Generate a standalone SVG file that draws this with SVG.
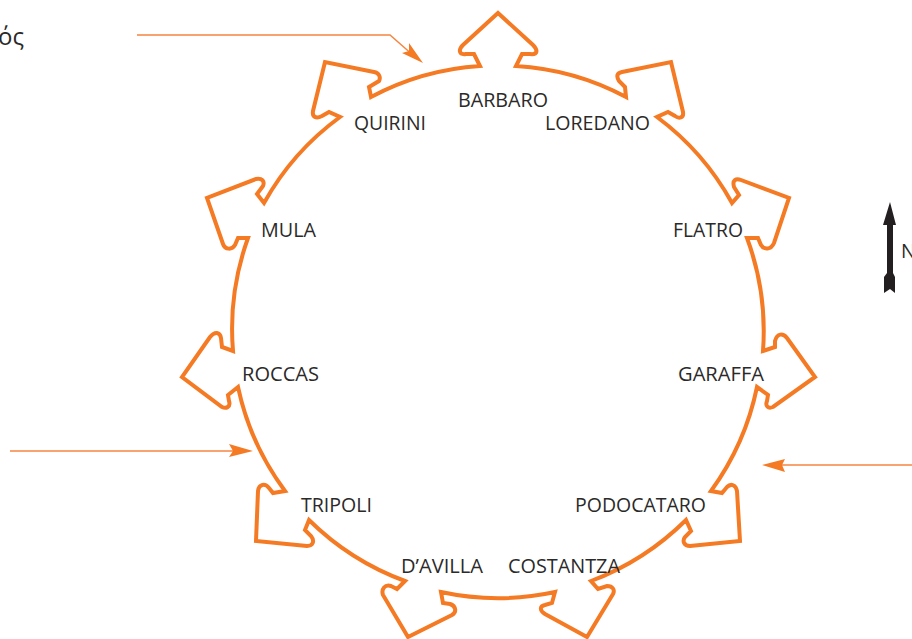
<svg xmlns="http://www.w3.org/2000/svg" width="912" height="639" viewBox="0 0 912 639">
<style>
.w{fill:none;stroke:#f57a24;stroke-width:4;stroke-linejoin:miter;stroke-miterlimit:10}
.l{fill:none;stroke:#f68540;stroke-width:1.5}
.h{fill:#f57a24}
.t{font-family:"Open Sans","Noto Sans",sans-serif;font-size:19.5px;fill:#2b2a29}
</style>
<rect width="912" height="639" fill="#fff"/>
<g id="wall"><path class="w" d="M498 13L533 45C538 50 538 55 530 54L522 54L516 66A268 268 0 0 1 626 97L625 87L619 81C616 76 617 73 622 72L671 62L683 112C684 118 679 119 675 116L668 112L657 117A268 268 0 0 1 732 203L739 195L734 187C732 180 736 178 741 180L789 198L774 243C771 250 764 250 761 245L758 238L747 238A268 268 0 0 1 763 351L775 347L775 341C777 333 783 333 787 338L815 377L773 407C768 409 765 406 767 401L768 395L757 387A268 268 0 0 1 711 491L722 493L727 487C731 483 736 485 737 491L740 541L690 546C684 546 682 541 685 537L691 531L686 520A268 268 0 0 1 591 581L598 589L607 586C613 586 615 590 613 594L587 637L545 614C539 610 540 606 545 605L552 603L555 592A268 268 0 0 1 441 592L443 603L450 604C456 606 457 612 452 615L408 637L383 595C381 589 385 584 391 586L397 589L405 581A268 268 0 0 1 309 520L305 530L311 536C315 541 313 546 307 546L256 541L258 491C259 484 265 483 269 488L273 493L285 491A268 268 0 0 1 238 387L228 395L229 401C231 407 226 409 222 407L182 377L210 337C215 331 220 332 221 338L222 347L233 351A268 268 0 0 1 248 238L238 238L235 245C232 250 225 250 223 244L207 198L256 179C262 178 265 181 263 186L257 194L264 203A268 268 0 0 1 340 117L329 112L322 116C316 119 312 117 313 111L325 62L374 72C379 73 381 77 379 81L369 87L371 97A268 268 0 0 1 480 66L474 54L466 54C459 55 458 50 463 45Z"/></g>
<g id="connectors">
<path class="l" d="M137 35H390L414 56"/>
<path class="h" d="M423 63L402 53L409 51L409 43Z"/>
<path class="l" d="M10 451H236"/>
<path class="h" d="M253 451L229 444L233 451L229 457Z"/>
<path class="l" d="M912 465H780"/>
<path class="h" d="M762 465L785 459L782 465L785 472Z"/>
</g>
<g id="north"><path fill="#231f20" d="M890 202L896 225H893V273L895 277V293L890 289L884 293V277L887 273V225H883Z"/><text class="t" x="901" y="258">N</text></g>
<g id="top-label"><text class="t" x="24" y="45" text-anchor="end" style="font-size:24px">ός</text></g>
<g id="barbaro"><text class="t" x="458" y="107" textLength="90" lengthAdjust="spacingAndGlyphs">BARBARO</text></g>
<g id="loredano"><text class="t" x="545" y="130" textLength="105" lengthAdjust="spacingAndGlyphs">LOREDANO</text></g>
<g id="quirini"><text class="t" x="354" y="130" textLength="72" lengthAdjust="spacingAndGlyphs">QUIRINI</text></g>
<g id="flatro"><text class="t" x="673" y="237" textLength="70" lengthAdjust="spacingAndGlyphs">FLATRO</text></g>
<g id="mula"><text class="t" x="261" y="237" textLength="55" lengthAdjust="spacingAndGlyphs">MULA</text></g>
<g id="roccas"><text class="t" x="242" y="381" textLength="77" lengthAdjust="spacingAndGlyphs">ROCCAS</text></g>
<g id="garaffa"><text class="t" x="678" y="381" textLength="86" lengthAdjust="spacingAndGlyphs">GARAFFA</text></g>
<g id="tripoli"><text class="t" x="301" y="512" textLength="71" lengthAdjust="spacingAndGlyphs">TRIPOLI</text></g>
<g id="podocataro"><text class="t" x="575" y="512" textLength="131" lengthAdjust="spacingAndGlyphs">PODOCATARO</text></g>
<g id="davilla"><text class="t" x="401" y="573" textLength="82" lengthAdjust="spacingAndGlyphs">D’AVILLA</text></g>
<g id="costantza"><text class="t" x="508" y="573" textLength="112" lengthAdjust="spacingAndGlyphs">COSTANTZA</text></g>
</svg>
